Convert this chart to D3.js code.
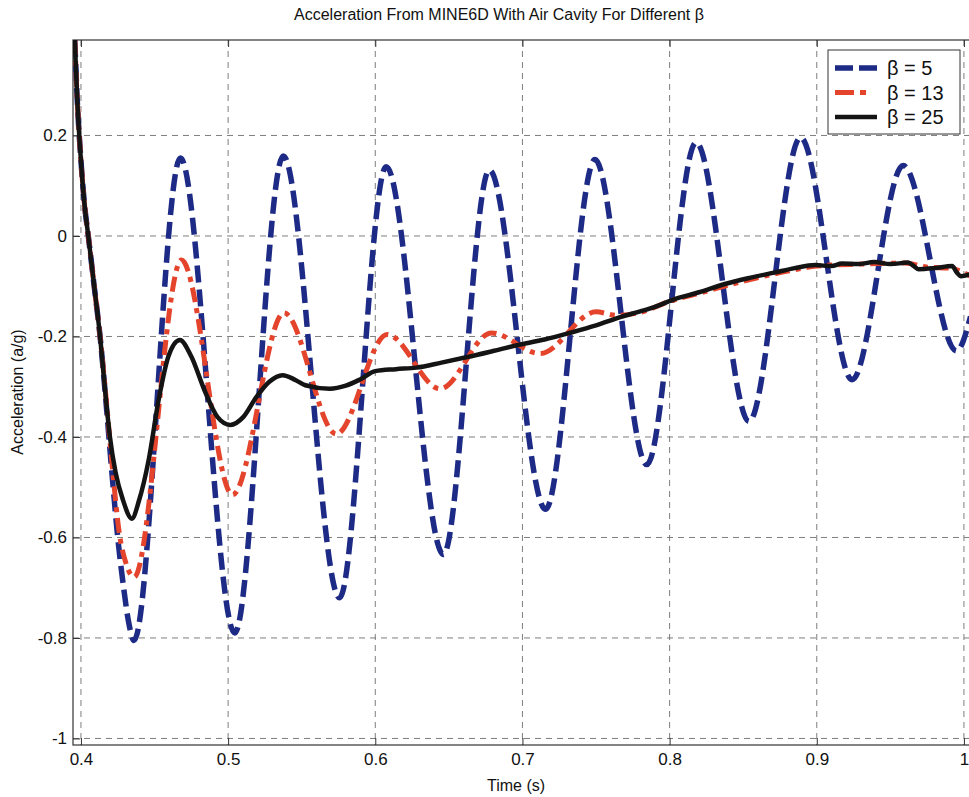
<!DOCTYPE html>
<html>
<head>
<meta charset="utf-8">
<script src="https://cdn.jsdelivr.net/npm/d3@7"></script>
<style>
  body { margin: 0; background: #fff; }
  text { font-family: "Liberation Sans", Arial, sans-serif; fill: #111; }
</style>
</head>
<body>
<svg id="chart" width="969" height="797"></svg>
<script>
/* global d3 */

// beta = 5 (blue dashed)
const t5 = [0.3958, 0.3975, 0.4, 0.4025, 0.405, 0.409, 0.413, 0.417, 0.421, 0.425, 0.429, 0.4325, 0.436,
  0.4676, 0.5045, 0.5375, 0.5757, 0.6074, 0.6463, 0.6775, 0.7157, 0.7493, 0.7845, 0.818, 0.854,
  0.889, 0.924, 0.9587, 0.995, 1.0045]
const a5 = [0.39, 0.27, 0.15, 0.06, 0.0, -0.1, -0.2, -0.33, -0.47, -0.6, -0.7, -0.77, -0.805,
  0.155, -0.79, 0.159, -0.72, 0.138, -0.634, 0.131, -0.544, 0.152, -0.455, 0.186, -0.369,
  0.196, -0.286, 0.14, -0.229, -0.16]

// beta = 13 (red dash-dot)
const t13 = [0.3958, 0.3975, 0.4, 0.4025, 0.405, 0.409, 0.413, 0.417, 0.421, 0.426, 0.431, 0.4361,
  0.4683, 0.503, 0.538, 0.5735, 0.608, 0.644, 0.679, 0.712, 0.75, 0.764, 0.78, 0.8, 0.82, 0.85,
  0.88, 0.9, 0.93, 0.96, 0.975, 0.99, 1.0045]
const a13 = [0.39, 0.27, 0.15, 0.06, 0.0, -0.1, -0.2, -0.32, -0.45, -0.59, -0.655, -0.679,
  -0.048, -0.515, -0.153, -0.394, -0.196, -0.304, -0.193, -0.234, -0.151, -0.158, -0.152, -0.13, -0.114, -0.09,
  -0.07, -0.06, -0.056, -0.054, -0.062, -0.064, -0.08]

// beta = 25 (black solid)
const t25 = [0.3958, 0.3975, 0.4, 0.4025, 0.405, 0.409, 0.413, 0.4165, 0.4197, 0.4235, 0.4285, 0.4346,
  0.4395, 0.446, 0.4528, 0.4594, 0.4672, 0.475, 0.4838, 0.4927, 0.5015, 0.5104, 0.5193, 0.528,
  0.537, 0.546, 0.5525, 0.569, 0.58, 0.59, 0.6, 0.614, 0.628, 0.645, 0.6625, 0.68, 0.697, 0.715,
  0.732, 0.75, 0.767, 0.78, 0.79, 0.803, 0.82, 0.837, 0.855, 0.871, 0.885, 0.899, 0.91, 0.917,
  0.928, 0.939, 0.95, 0.962, 0.966, 0.969, 0.98, 0.992, 0.995, 0.998, 1.0045]
const a25 = [0.39, 0.27, 0.15, 0.06, 0.0, -0.1, -0.2, -0.31, -0.40, -0.47, -0.525, -0.5625,
  -0.526, -0.446, -0.326, -0.24, -0.207, -0.24, -0.306, -0.36, -0.376, -0.36, -0.32, -0.29,
  -0.277, -0.287, -0.297, -0.304, -0.298, -0.285, -0.269, -0.265, -0.262, -0.252, -0.241, -0.229, -0.217, -0.206,
  -0.193, -0.178, -0.161, -0.15, -0.141, -0.126, -0.112, -0.096, -0.083, -0.073, -0.064, -0.058, -0.06, -0.055,
  -0.056, -0.052, -0.056, -0.053, -0.06, -0.066, -0.064, -0.06, -0.072, -0.08, -0.076]

const xTicks = [0.4, 0.5, 0.6, 0.7, 0.8, 0.9, 1]
const yTicks = [-1, -0.8, -0.6, -0.4, -0.2, 0, 0.2]
const legendLabels = ['β = 5', 'β = 13', 'β = 25']

const box = {left: 73, top: 40, right: 971, bottom: 745}
const svg = d3.select('#chart')

const x = d3.scaleLinear().domain([0.3946, 1.0048]).range([box.left, box.right])
const y = d3.scaleLinear().domain([-1.013, 0.39]).range([box.bottom, box.top])

// grid
const grid = svg.append('g')
  .attr('stroke', '#6f6f6f')
  .attr('stroke-width', 0.9)
  .attr('stroke-dasharray', '6,5')
xTicks.forEach(function (d) {
  grid.append('line')
    .attr('x1', x(d)).attr('x2', x(d))
    .attr('y1', box.top).attr('y2', box.bottom)
})
yTicks.forEach(function (d) {
  grid.append('line')
    .attr('x1', box.left).attr('x2', box.right)
    .attr('y1', y(d)).attr('y2', y(d))
})

// axes, ticks pointing inward
const xAxis = svg.append('g')
  .attr('transform', 'translate(0,' + box.bottom + ')')
  .call(d3.axisBottom(x).tickValues(xTicks).tickSize(-7).tickPadding(8).tickFormat(d => String(d)))
const yAxis = svg.append('g')
  .attr('transform', 'translate(' + box.left + ',0)')
  .call(d3.axisLeft(y).tickValues(yTicks).tickSize(-7).tickPadding(6).tickFormat(d => String(d)))
svg.append('g')
  .attr('transform', 'translate(0,' + box.top + ')')
  .call(d3.axisTop(x).tickValues(xTicks).tickSize(-7).tickFormat(''))
;[xAxis, yAxis].forEach(function (a) {
  a.selectAll('text').style('font-size', '17px').attr('fill', '#111')
})
svg.selectAll('.domain').remove()
svg.selectAll('.tick line').attr('stroke', '#333')

// frame
svg.append('rect')
  .attr('x', box.left)
  .attr('y', box.top)
  .attr('width', box.right - box.left)
  .attr('height', box.bottom - box.top)
  .attr('fill', 'none')
  .attr('stroke', '#333')
  .attr('stroke-width', 1.2)

// lines
svg.append('clipPath').attr('id', 'plotClip')
  .append('rect')
  .attr('x', box.left).attr('y', box.top)
  .attr('width', box.right - box.left).attr('height', box.bottom - box.top)

const line = d3.line()
  .x(d => x(d[0]))
  .y(d => y(d[1]))
  .curve(d3.curveMonotoneX)

const series = [
  {t: t5, a: a5, color: '#1d2b86', width: 5.5, dash: '17,7'},
  {t: t13, a: a13, color: '#e4432c', width: 5, dash: '15,6,5,6'},
  {t: t25, a: a25, color: '#141414', width: 4.5, dash: null}
]
const plot = svg.append('g').attr('clip-path', 'url(#plotClip)')
series.forEach(function (s) {
  plot.append('path')
    .datum(d3.zip(s.t, s.a))
    .attr('d', line)
    .attr('fill', 'none')
    .attr('stroke', s.color)
    .attr('stroke-width', s.width)
    .attr('stroke-dasharray', s.dash)
    .attr('stroke-linejoin', 'round')
})

// legend
const lg = svg.append('g')
lg.append('rect')
  .attr('x', 828).attr('y', 50)
  .attr('width', 132).attr('height', 84)
  .attr('fill', '#fff')
  .attr('stroke', '#333')
  .attr('stroke-width', 1)
legendLabels.forEach(function (name, i) {
  const s = series[i]
  const ly = 68 + i * 24.5
  lg.append('line')
    .attr('x1', 835).attr('x2', 877)
    .attr('y1', ly).attr('y2', ly)
    .attr('stroke', s.color)
    .attr('stroke-width', s.width)
    .attr('stroke-dasharray', i === 0 ? '18,6' : (i === 1 ? '19,6,6,20' : null))
  lg.append('text')
    .text(name)
    .attr('x', 887)
    .attr('y', ly + 7)
    .style('font-size', '20px')
})

// titles
svg.append('text')
  .text('Acceleration From MINE6D With Air Cavity For Different β')
  .attr('x', 499).attr('y', 20)
  .attr('text-anchor', 'middle')
  .style('font-size', '16px')
svg.append('text')
  .text('Time (s)')
  .attr('x', 516).attr('y', 791)
  .attr('text-anchor', 'middle')
  .style('font-size', '16px')
svg.append('text')
  .text('Acceleration (a/g)')
  .attr('transform', 'translate(23,392) rotate(-90)')
  .attr('text-anchor', 'middle')
  .style('font-size', '16px')
</script>
</body>
</html>
